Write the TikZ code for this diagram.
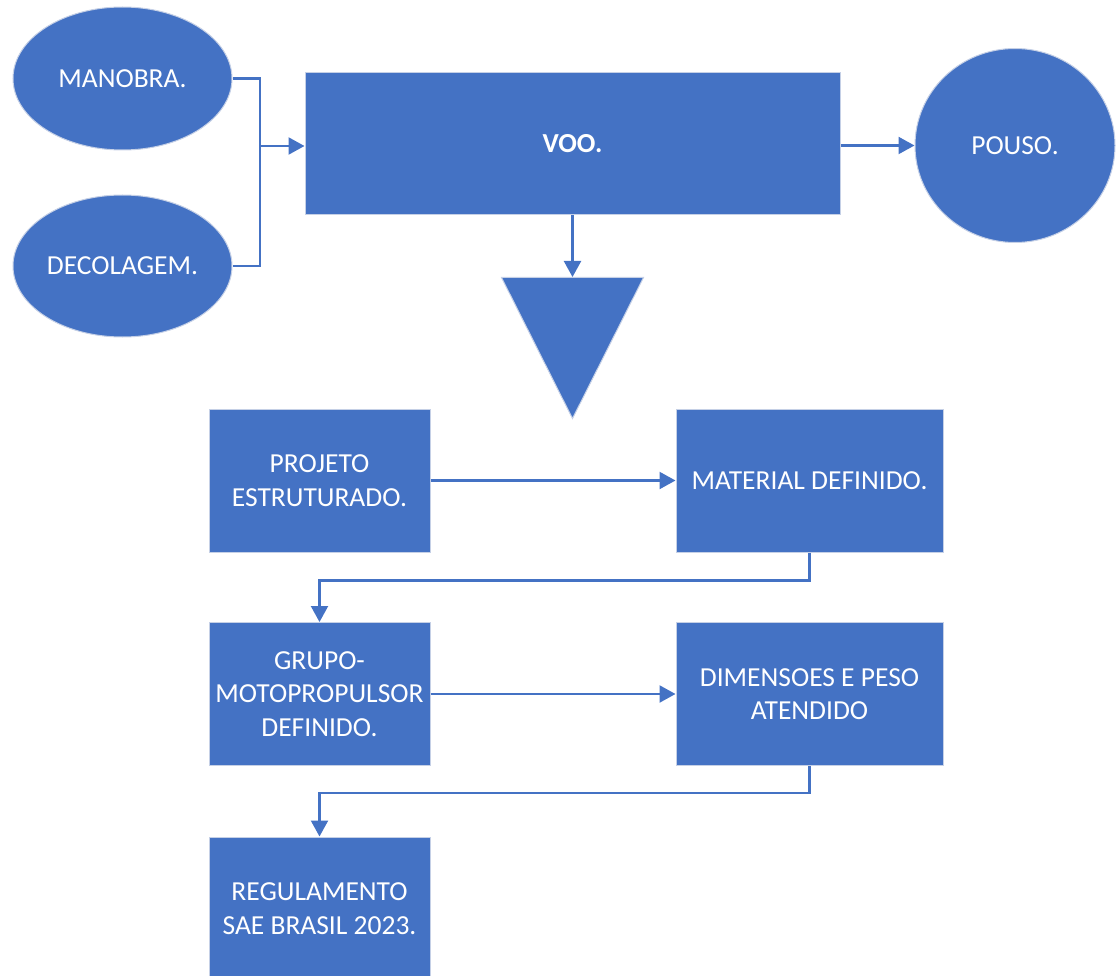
\documentclass[tikz,border=0pt]{standalone}
\usepackage{fontspec}
\setmainfont{Carlito}
\usetikzlibrary{arrows.meta,shapes.geometric}
\definecolor{officeblue}{HTML}{4472C4}
\definecolor{edgegrey}{HTML}{C5D0E6}
\tikzset{
  block/.style={draw=edgegrey,line width=1pt,fill=officeblue,text=white,inner sep=0pt,
    align=center,font=\fontsize{27.5}{33.5}\selectfont},
  stepbox/.style={block,rectangle,minimum width=221pt,minimum height=143pt},
  widebox/.style={block,rectangle,minimum width=267pt,minimum height=143pt},
  link/.style={draw=officeblue,line width=2.2pt},
  flow/.style={link,-{Triangle[length=16pt,width=17pt]}}
}
\begin{document}
\begin{tikzpicture}[x=1pt,y=-1pt]
\useasboundingbox (0,0) rectangle (1116,976);
\node[block,ellipse,minimum width=219pt,minimum height=143pt] (man) at (122.5,78.5) {MANOBRA.};
\node[block,ellipse,minimum width=219pt,minimum height=142pt] (dec) at (122.5,266) {DECOLAGEM.};
\node[block,rectangle,minimum width=535pt,minimum height=142pt,font=\fontsize{27.5}{33.5}\selectfont\bfseries] (voo) at (572.5,144) {VOO.};
\node[block,ellipse,minimum width=200pt,minimum height=194pt] (pou) at (1015,145.5) {POUSO.};
\node[block,isosceles triangle,shape border rotate=-90,isosceles triangle stretches,
  minimum width=142pt,minimum height=141pt,anchor=lower side] (tri) at (572.5,277) {};
\node[stepbox] (prj) at (319.5,480.5) {PROJETO\\ESTRUTURADO.};
\node[widebox] (mat) at (809.5,480.5) {MATERIAL DEFINIDO.};
\node[stepbox] (grp) at (319.5,694) {GRUPO-\\MOTOPROPULSOR\\DEFINIDO.};
\node[widebox] (dim) at (809.5,694) {DIMENSOES E PESO\\ATENDIDO};
\node[stepbox] (reg) at (319.5,908.5) {REGULAMENTO\\SAE BRASIL 2023.};
\coordinate (join) at (260,146);
\draw[link] (man.east) -| (join) |- (dec.east);
\draw[flow] (join) -- (join -| voo.west);
\draw[flow] (voo.east |- pou.west) -- (pou.west);
\draw[flow] (voo.south) -- (voo.south |- tri.lower side);
\draw[flow] (prj.east) -- (mat.west);
\draw[flow] (mat.south) -- ++(0,28) -| (grp.north);
\draw[flow] (grp.east) -- (dim.west);
\draw[flow] (dim.south) -- ++(0,27) -| (reg.north);
\end{tikzpicture}
\end{document}
